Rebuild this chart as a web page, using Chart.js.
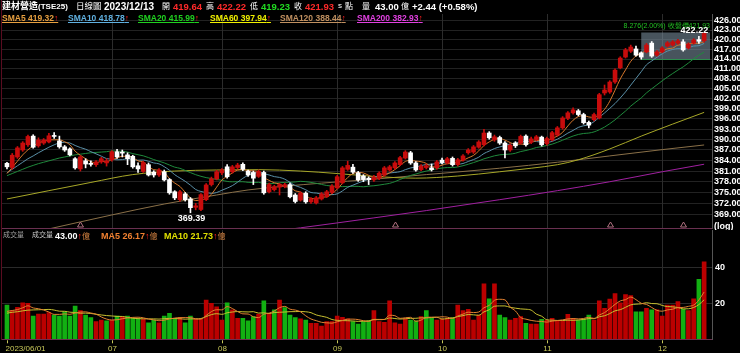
<!DOCTYPE html>
<html><head><meta charset="utf-8">
<script src="https://cdn.jsdelivr.net/npm/chart.js@4.4.0/dist/chart.umd.min.js"></script>
<style>
html,body{margin:0;padding:0;background:#000;width:740px;height:353px;overflow:hidden;}
#wrap{position:relative;width:740px;height:353px;background:#000;}
canvas{position:absolute;left:0;}
#pc{top:0;}
#vc{top:228px;}
.t{position:absolute;white-space:nowrap;font-family:"Liberation Sans",Arial,sans-serif;line-height:1;}
.c{font-family:"Noto Sans CJK TC","Noto Sans CJK SC",sans-serif;}
.b{font-weight:bold;}
.u{text-decoration:underline;}
.line{position:absolute;}
</style></head><body>
<div id="wrap">
<canvas id="pc" width="740" height="230"></canvas>
<canvas id="vc" width="740" height="125"></canvas>
<div class="line" style="left:1px;top:0;width:1px;height:340px;background:#5a0c20"></div>
<div class="line" style="left:2px;top:228px;width:710px;height:1px;background:#6a3050"></div>
<div class="line" style="left:2px;top:339px;width:710px;height:1px;background:#6a3050"></div>

<div class="t c b" style="left:2px;top:1px;font-size:9px;color:#fff;">建材營造<span style="font-family:'Liberation Sans Narrow','Liberation Sans',Arial;font-size:8px">(TSE25)</span></div>
<div class="t c" style="left:76px;top:1px;font-size:8.5px;color:#fff;">日線圖</div>
<div class="t b" style="left:104px;top:2px;font-size:10px;color:#fff;">2023/12/13</div>
<div class="t c" style="left:162px;top:2px;font-size:8px;color:#fff;">開</div>
<div class="t b" style="left:173px;top:2px;font-size:9.5px;color:#ff2a2a;">419.64</div>
<div class="t c" style="left:206px;top:2px;font-size:8px;color:#fff;">高</div>
<div class="t b" style="left:217px;top:2px;font-size:9.5px;color:#ff2a2a;">422.22</div>
<div class="t c" style="left:250px;top:2px;font-size:8px;color:#fff;">低</div>
<div class="t b" style="left:261px;top:2px;font-size:9.5px;color:#22dd22;">419.23</div>
<div class="t c" style="left:294px;top:2px;font-size:8px;color:#fff;">收</div>
<div class="t b" style="left:305px;top:2px;font-size:9.5px;color:#ff2a2a;">421.93</div>
<div class="t" style="left:338px;top:2px;font-size:8px;color:#fff;">s</div>
<div class="t c" style="left:345px;top:2px;font-size:8px;color:#fff;">點</div>
<div class="t c" style="left:362px;top:2px;font-size:8px;color:#fff;">量</div>
<div class="t b" style="left:375px;top:2px;font-size:9.5px;color:#fff;">43.00</div>
<div class="t c" style="left:401px;top:2px;font-size:8px;color:#fff;">億</div>
<div class="t b" style="left:412px;top:2px;font-size:9.5px;color:#fff;">+2.44 (+0.58%)</div>

<div class="t b u" style="left:2px;top:14px;font-size:8.5px;color:#e8a040;">SMA5 419.32<span style="color:#ff2020">↑</span></div>
<div class="t b u" style="left:68px;top:14px;font-size:8.5px;color:#60b0e0;">SMA10 418.78<span style="color:#ff2020">↑</span></div>
<div class="t b u" style="left:138px;top:14px;font-size:8.5px;color:#20d020;">SMA20 415.99<span style="color:#ff2020">↑</span></div>
<div class="t b u" style="left:210px;top:14px;font-size:8.5px;color:#f0f000;">SMA60 397.94<span style="color:#ff2020">↑</span></div>
<div class="t b u" style="left:280px;top:14px;font-size:8.5px;color:#c09060;">SMA120 388.44<span style="color:#ff2020">↑</span></div>
<div class="t b u" style="left:357px;top:14px;font-size:8.5px;color:#e040e0;">SMA200 382.93<span style="color:#ff2020">↑</span></div>

<div class="t c" style="left:3px;top:231px;font-size:7px;color:#a0a0a0;">成交量</div>
<div class="t c" style="left:32px;top:231px;font-size:7px;color:#c8c8c8;">成交量</div>
<div class="t b" style="left:55px;top:232px;font-size:9px;color:#fff;">43.00<span style="color:#ff2020">↑</span><span class="c" style="font-weight:normal;color:#d08040;font-size:8px">億</span></div>
<div class="t b" style="left:101px;top:232px;font-size:9px;color:#f08030;">MA5 26.17<span style="color:#ff2020">↑</span><span class="c" style="font-weight:normal;color:#d08040;font-size:8px">億</span></div>
<div class="t b" style="left:164px;top:232px;font-size:9px;color:#e0e000;">MA10 21.73<span style="color:#ff2020">↑</span><span class="c" style="font-weight:normal;color:#d08040;font-size:8px">億</span></div>
</div>
<script>
const categories = [
"2023/06/01","2023/06/02","2023/06/05","2023/06/06","2023/06/07","2023/06/08","2023/06/09","2023/06/12","2023/06/13","2023/06/14",
"2023/06/15","2023/06/16","2023/06/19","2023/06/20","2023/06/21","2023/06/26","2023/06/27","2023/06/28","2023/06/29","2023/06/30",
"2023/07/03","2023/07/04","2023/07/05","2023/07/06","2023/07/07","2023/07/10","2023/07/11","2023/07/12","2023/07/13","2023/07/14",
"2023/07/17","2023/07/18","2023/07/19","2023/07/20","2023/07/21","2023/07/24","2023/07/25","2023/07/26","2023/07/27","2023/07/28",
"2023/07/31","2023/08/01","2023/08/02","2023/08/04","2023/08/07","2023/08/08","2023/08/09","2023/08/10","2023/08/11","2023/08/14",
"2023/08/15","2023/08/16","2023/08/17","2023/08/18","2023/08/21","2023/08/22","2023/08/23","2023/08/24","2023/08/25","2023/08/28",
"2023/08/29","2023/08/30","2023/08/31","2023/09/01","2023/09/04","2023/09/05","2023/09/06","2023/09/07","2023/09/08","2023/09/11",
"2023/09/12","2023/09/13","2023/09/14","2023/09/15","2023/09/18","2023/09/19","2023/09/20","2023/09/21","2023/09/22","2023/09/25",
"2023/09/26","2023/09/27","2023/09/28","2023/10/02","2023/10/03","2023/10/04","2023/10/05","2023/10/06","2023/10/11","2023/10/12",
"2023/10/13","2023/10/16","2023/10/17","2023/10/18","2023/10/19","2023/10/20","2023/10/23","2023/10/24","2023/10/25","2023/10/26",
"2023/10/27","2023/10/30","2023/10/31","2023/11/01","2023/11/02","2023/11/03","2023/11/06","2023/11/07","2023/11/08","2023/11/09",
"2023/11/10","2023/11/13","2023/11/14","2023/11/15","2023/11/16","2023/11/17","2023/11/20","2023/11/21","2023/11/22","2023/11/23",
"2023/11/24","2023/11/27","2023/11/28","2023/11/29","2023/11/30","2023/12/01","2023/12/04","2023/12/05","2023/12/06","2023/12/07",
"2023/12/08","2023/12/11","2023/12/12","2023/12/13"];

const open = [
383.2,382.0,385.0,387.0,388.5,391.0,388.2,389.0,389.3,391.1,
389.6,387.9,387.3,384.5,381.6,383.9,383.1,382.8,383.6,383.3,
384.2,386.5,386.4,385.6,385.2,382.5,380.9,382.8,380.7,379.9,
380.8,378.6,375.2,373.0,374.6,373.2,370.9,370.3,373.0,377.2,
378.8,380.5,382.2,380.8,382.0,382.9,381.0,380.6,379.5,380.6,
375.2,375.8,376.5,376.7,377.2,374.3,372.9,374.8,372.4,372.1,
373.2,373.9,375.0,376.3,377.7,381.5,382.1,380.5,379.6,379.0,
378.5,379.0,379.9,381.3,381.9,382.8,384.7,386.2,383.3,381.4,
382.0,381.9,381.9,384.1,383.3,384.6,382.8,384.1,386.2,386.4,
387.8,388.5,391.9,389.9,390.6,389.0,387.0,389.0,389.0,391.0,
389.2,390.0,390.7,388.8,389.9,391.3,393.4,396.2,397.8,398.4,
397.3,395.0,395.8,396.3,403.7,404.0,407.0,411.3,414.6,416.4,
417.1,415.9,416.2,418.9,415.2,416.2,418.0,418.3,418.9,419.3,
417.4,418.9,420.0,419.64];
const high = [
383.5,386.0,388.0,389.4,391.3,391.4,390.5,390.3,391.8,392.0,
391.0,388.3,387.6,384.8,385.4,384.5,383.9,384.0,384.9,384.5,
386.8,387.2,387.0,386.2,385.5,383.3,383.8,383.3,381.1,381.7,
381.3,378.9,375.5,375.6,375.0,373.6,372.0,374.7,377.5,379.3,
381.2,381.7,382.8,382.6,383.2,383.3,381.3,381.0,381.3,381.0,
377.6,377.0,377.6,377.6,377.6,374.7,375.2,375.2,373.6,373.9,
375.0,375.6,377.2,379.8,382.3,383.8,382.9,380.9,380.0,379.4,
379.8,380.8,382.3,382.6,383.7,385.2,386.8,386.6,383.7,382.8,
383.0,383.0,384.0,384.7,384.9,385.0,384.6,385.7,387.4,388.3,
389.7,393.0,392.3,391.3,391.0,389.4,388.8,389.4,391.3,391.4,
390.7,391.2,391.0,390.7,392.4,393.8,396.7,398.2,399.3,398.8,
397.7,395.4,397.7,403.6,406.1,407.4,411.0,414.7,417.3,418.3,
418.0,416.2,418.8,419.4,416.6,417.8,419.4,419.7,420.1,420.0,
419.0,420.3,421.0,422.22];
const low = [
381.6,381.5,384.6,386.6,388.0,387.5,387.8,388.6,389.0,390.3,
387.5,386.6,385.3,381.5,381.0,381.9,382.4,382.3,383.2,382.4,
383.8,384.6,385.0,382.8,381.8,380.6,380.6,379.6,379.3,379.5,
378.2,374.5,373.0,372.6,372.6,369.39,370.2,370.0,372.7,376.8,
378.5,380.0,379.0,380.4,381.6,381.1,379.5,377.2,379.2,374.5,
374.9,375.4,374.3,376.3,373.5,372.1,372.6,372.0,372.0,371.8,
372.9,373.6,374.7,376.0,377.4,381.2,380.3,378.1,378.0,377.2,
378.1,378.6,379.5,381.0,381.5,382.5,384.4,382.9,381.0,381.1,
381.6,381.0,381.5,383.0,383.0,382.4,382.4,383.8,385.8,386.0,
387.5,388.2,390.1,389.5,388.6,384.7,386.6,387.7,388.7,388.1,
388.8,389.6,388.1,388.4,389.6,391.0,393.0,395.8,397.4,396.9,
394.5,393.4,395.4,396.0,403.1,403.6,406.6,411.0,414.3,416.0,
414.9,413.944,415.9,414.5,414.9,415.9,417.7,418.0,418.6,416.4,
417.1,418.6,418.8,419.23];
const close = [
382.2,385.5,387.6,389.0,390.9,387.8,389.9,389.9,391.1,390.9,
387.9,387.0,385.6,381.9,385.0,383.0,382.9,383.6,384.5,383.9,
386.5,385.0,386.1,384.5,382.2,381.6,383.4,379.9,379.9,381.3,
378.5,374.9,373.5,375.2,373.0,370.8,371.3,374.4,377.1,378.8,
380.8,381.3,379.4,382.2,382.7,381.5,379.9,379.0,380.9,374.9,
377.2,376.6,377.2,377.2,373.8,372.5,374.8,372.4,373.2,373.5,
374.6,375.2,376.8,379.4,381.9,382.6,380.7,378.5,378.6,378.6,
379.3,380.4,381.9,382.2,383.3,384.8,386.4,383.3,381.3,382.4,
382.5,381.4,383.6,383.4,384.5,382.8,384.2,385.3,387.0,387.9,
389.3,391.9,390.5,390.8,389.0,387.0,388.4,388.2,390.9,388.5,
390.2,390.8,388.5,390.3,392.0,393.4,396.3,397.8,398.7,397.3,
394.9,394.2,397.3,403.2,404.6,407.0,410.6,414.3,416.8,417.7,
415.2,414.6,418.3,414.9,416.2,417.4,419.0,419.3,419.6,416.8,
418.6,419.9,419.49,421.93];
const volume = [
19,16,17.8,20.3,20,12.9,14,14,14.8,13.5,
12.9,15.3,12.9,18.5,16,13.5,12,9.8,10.7,10.2,
10.7,12.9,12.6,12.9,11.7,11.3,11.1,9.2,10.7,9.2,
12.9,14.4,11.7,12,9.2,12.9,11.1,11.1,21.8,20,
18.1,10.7,20.3,16.3,11.7,11.7,10.2,12.6,14,21.3,
14.4,16.3,21.8,17.6,13.5,12,11.3,10.7,8.9,8.9,
7.4,9.8,9.8,12.9,12.2,11.3,9.8,8.5,9.8,10.4,
15.9,9.8,9.4,21.3,9.2,8.5,11.3,10.7,10.2,12.6,
15.9,12,10.7,11.3,11.7,12,19,15.9,16.7,10.7,
13.5,30.8,22.5,30.8,13.5,12,10.7,11.7,12.6,8.9,
8.5,8.5,11.1,10.7,11.7,10.2,10.2,13.9,11.7,10.7,
11.3,13.5,10.7,21.3,17.2,22.4,25.4,20.3,24.8,24.3,
15.3,15.3,17.2,16.3,16.3,12.9,19,19,20.9,16.7,
15.9,22.5,33.3,43];
const volDir = "grrrrgrrrg"+"ggggrggrrg"+"rgrgggrggr"+"gggrggrrrr"+"rrgrrgggrg"+"rgrgggrgrr"+"rrrrrrgggg"+"rrrrrrrggr"+"ggrrrgrrrr"+"rrgrggrrrg"+"rrgrrrrrrg"+"ggrrrrrrrr"+"ggrgrrrrrg"+"rrgr";

const sma5Head = [380.3,382.0,383.8,385.6];
const sma10Head = [380.5,381.5,382.5,383.5,384.5,385.3,386.2,387.0,387.8];
const sma20Head = [379.7,380.3,380.9,381.5,382.1,382.6,383.1,383.5,383.9,384.3,384.7,385.0,385.3,385.6,385.8,386.0,386.2,386.3,386.4];
const sma60Idx = [0,8,16,24,32,40,48,56,63,70,78,86,94,100,105,109,115,121,127,133];
const sma60Val = [373.2,375.5,377.8,380.0,381.0,381.3,381.4,381.0,380.3,379.5,379.0,379.6,380.8,381.8,382.8,384.2,387.3,391.0,394.5,397.94];
const sma120Idx = [0,8,20,30,40,46,60,70,80,94,105,115,125,133];
const sma120Val = [362.5,365.0,368.8,371.8,374.3,375.7,377.6,378.7,380.0,381.8,383.5,385.3,387.1,388.44];
const sma200Idx = [20,40,56,70,80,94,105,115,125,133];
const sma200Val = [359.5,362.5,365.3,368.0,370.0,373.0,375.5,378.0,380.8,382.93];
const volMa5Head = [15.5,16.0,16.5,17.5];
const volMa10Head = [14.5,15.0,15.3,15.8,16.2,16.3,16.4,16.5,16.6];

const priceTicks = [369,372,375,378,381,384,387,390,393,396,399,402,405,408,411,414,417,420,423,426];
const volTicks = [20,40];
const markerIdx = [14,74,115,129];
const boxStart = 121;

const N = categories.length;
const idx = categories.map((_, i) => i);
const up = idx.map(i => close[i] >= open[i]);
function movAvg(src, n, head){
  return src.map((_, i) => i < n-1 ? head[i] : src.slice(i-n+1, i+1).reduce((a,b)=>a+b,0)/n);
}
const sma5 = movAvg(close,5,sma5Head), sma10 = movAvg(close,10,sma10Head), sma20 = movAvg(close,20,sma20Head);
const vma5 = movAvg(volume,5,volMa5Head), vma10 = movAvg(volume,10,volMa10Head);
const monthStarts = idx.filter(i => i===0 || categories[i].slice(5,7) !== categories[i-1].slice(5,7));
const boxHigh = Math.max(...high.slice(boxStart)), boxLow = Math.min(...low.slice(boxStart));
const minIdx = low.indexOf(Math.min(...low)), maxIdx = high.indexOf(Math.max(...high));

const RED = '#c80c0c', WHITE = '#ffffff';
const xScale = {type:'linear', min:-0.95, max:N+0.5, offset:false, display:false};

function sparse(ix, vals){ return ix.map((i,k)=>({x:i, y:vals[k]})); }
function lineDs(data, color, order){ return {type:'line', data, borderColor:color, borderWidth:1, pointRadius:0, fill:false, order, cubicInterpolationMode:'monotone'}; }

const priceDecor = {
  id:'priceDecor',
  beforeDatasetsDraw(chart){
    const {ctx, chartArea:a, scales:{x,y}} = chart;
    ctx.save();
    ctx.strokeStyle = '#2c2c2c'; ctx.lineWidth = 1;
    monthStarts.forEach(i => { if(i===0) return; const px = Math.round(x.getPixelForValue(i))+0.5;
      ctx.beginPath(); ctx.moveTo(px,a.top); ctx.lineTo(px,a.bottom); ctx.stroke(); });
    const bx0 = x.getPixelForValue(boxStart), bx1 = a.right - 2;
    const by0 = y.getPixelForValue(boxHigh), by1 = y.getPixelForValue(boxLow);
    ctx.fillStyle = 'rgba(120,140,155,0.6)';
    ctx.fillRect(bx0, by0, bx1-bx0, by1-by0);
    ctx.strokeStyle = '#2f8f4f';
    ctx.beginPath(); ctx.moveTo(bx0, Math.round(by1)+0.5); ctx.lineTo(bx1, Math.round(by1)+0.5); ctx.stroke();
    ctx.restore();
  },
  afterDatasetsDraw(chart){
    const {ctx, chartArea:a, scales:{x,y}} = chart;
    ctx.save();
    ctx.font = 'bold 9px "Liberation Sans", Arial';
    ctx.fillStyle = '#fff'; ctx.textAlign = 'center'; ctx.textBaseline = 'top';
    ctx.fillText(low[minIdx].toFixed(2), x.getPixelForValue(minIdx)+1, y.getPixelForValue(low[minIdx])+1);
    const bx1 = a.right - 2, by0 = y.getPixelForValue(boxHigh);
    ctx.textAlign = 'right'; ctx.textBaseline = 'bottom';
    ctx.fillStyle = '#22c022'; ctx.font = '7px "Liberation Sans", Arial';
    const diff = boxHigh - boxLow;
    ctx.fillText(diff.toFixed(3)+'('+(diff/boxLow*100).toFixed(2)+'%) 收盤價'+close[N-1].toFixed(2), bx1, by0-3);
    ctx.font = 'bold 9px "Liberation Sans", Arial'; ctx.fillStyle = '#fff'; ctx.textBaseline = 'middle';
    ctx.fillText(high[maxIdx].toFixed(2), x.getPixelForValue(maxIdx)+4, y.getPixelForValue(high[maxIdx])-2);
    ctx.strokeStyle = '#b07080'; ctx.lineWidth = 1;
    markerIdx.forEach(i => { const px = Math.round(x.getPixelForValue(i))+0.5, py = a.bottom - 1;
      ctx.beginPath(); ctx.moveTo(px-3, py); ctx.lineTo(px, py-5); ctx.lineTo(px+3, py); ctx.closePath(); ctx.stroke(); });
    ctx.fillStyle = '#fff'; ctx.textAlign = 'left'; ctx.textBaseline = 'middle';
    ctx.fillText('(log)', a.right+2, a.bottom-1);
    ctx.restore();
  }
};

new Chart(document.getElementById('pc'), {
  type:'bar',
  data:{datasets:[
    {type:'bar', data: idx.map(i=>({x:i, y:[Math.min(open[i],close[i]), Math.max(open[i],close[i])]})), backgroundColor: idx.map(i=>up[i]?RED:WHITE), barThickness:4, grouped:false, minBarLength:1, order:0},
    {type:'bar', data: idx.map(i=>({x:i, y:[low[i], high[i]]})), backgroundColor: idx.map(i=>up[i]?RED:WHITE), barThickness:1, grouped:false, order:1},
    lineDs(idx.map(i=>({x:i,y:sma5[i]})), '#d8782c', 2),
    lineDs(idx.map(i=>({x:i,y:sma10[i]})), '#5a90a8', 3),
    lineDs(idx.map(i=>({x:i,y:sma20[i]})), '#1f8a3c', 4),
    lineDs(sparse(sma60Idx, sma60Val), '#a8a828', 5),
    lineDs(sparse(sma120Idx, sma120Val), '#8a7048', 6),
    lineDs(sparse(sma200Idx, sma200Val), '#a020a0', 7)
  ]},
  options:{
    responsive:false, animation:false, events:[],
    layout:{padding:{left:2, top:14, bottom:2, right:0}},
    plugins:{legend:{display:false}, tooltip:{enabled:false}},
    scales:{
      x: xScale,
      y:{type:'logarithmic', position:'right', min:365.25, max:428.05,
        afterBuildTicks: s => { s.ticks = priceTicks.map(v=>({value:v})); },
        afterFit: s => { s.width = 28; s.paddingTop = 0; s.paddingBottom = 0; },
        grid:{color:'#222', drawTicks:false},
        border:{display:true, color:'#555'},
        ticks:{color:'#fff', font:{family:'"Liberation Sans", Arial', size:9, weight:'bold'}, padding:2, autoSkip:false, callback:v=>Number(v).toFixed(2)}
      }
    }
  },
  plugins:[priceDecor]
});

const volDecor = {
  id:'volDecor',
  beforeDatasetsDraw(chart){
    const {ctx, chartArea:a, scales:{x}} = chart;
    ctx.save();
    ctx.strokeStyle = '#2c2c2c'; ctx.lineWidth = 1;
    monthStarts.forEach(i => { if(i===0) return; const px = Math.round(x.getPixelForValue(i))+0.5;
      ctx.beginPath(); ctx.moveTo(px,a.top); ctx.lineTo(px,a.bottom); ctx.stroke(); });
    ctx.restore();
  },
  afterDraw(chart){
    const {ctx, chartArea:a, scales:{x}} = chart;
    ctx.save();
    ctx.font = '8px "Liberation Sans", Arial'; ctx.fillStyle = '#c8c85a'; ctx.strokeStyle = '#c8c85a';
    ctx.textBaseline = 'top';
    monthStarts.forEach(i => { const px = Math.round(x.getPixelForValue(i))+0.5;
      ctx.beginPath(); ctx.moveTo(px, a.bottom+1); ctx.lineTo(px, a.bottom+4); ctx.stroke();
      const lab = i===0 ? categories[0] : categories[i].slice(5,7);
      ctx.textAlign = i===0 ? 'left' : 'center';
      ctx.fillText(lab, i===0 ? px-2 : px, a.bottom+5); });
    ctx.restore();
  }
};

new Chart(document.getElementById('vc'), {
  type:'bar',
  data:{datasets:[
    {type:'bar', data: idx.map(i=>({x:i, y:volume[i]})), backgroundColor: idx.map(i=>volDir[i]==='r'?'#bb0000':'#12b012'), barThickness:4, grouped:false, order:2},
    lineDs(idx.map(i=>({x:i,y:vma5[i]})), '#e08030', 0),
    lineDs(idx.map(i=>({x:i,y:vma10[i]})), '#c8c030', 1)
  ]},
  options:{
    responsive:false, animation:false, events:[],
    layout:{padding:{left:2, top:2, bottom:13.7, right:0}},
    plugins:{legend:{display:false}, tooltip:{enabled:false}},
    scales:{
      x: xScale,
      y:{type:'linear', position:'right', min:0, max:60.7,
        afterBuildTicks: s => { s.ticks = volTicks.map(v=>({value:v})); },
        afterFit: s => { s.width = 28; s.paddingTop = 0; s.paddingBottom = 0; },
        grid:{color:'#2a2a2a', drawTicks:false},
        border:{display:true, color:'#555'},
        ticks:{color:'#fff', font:{family:'"Liberation Sans", Arial', size:9, weight:'bold'}, padding:3, autoSkip:false}
      }
    }
  },
  plugins:[volDecor]
});
</script>
</body></html>
